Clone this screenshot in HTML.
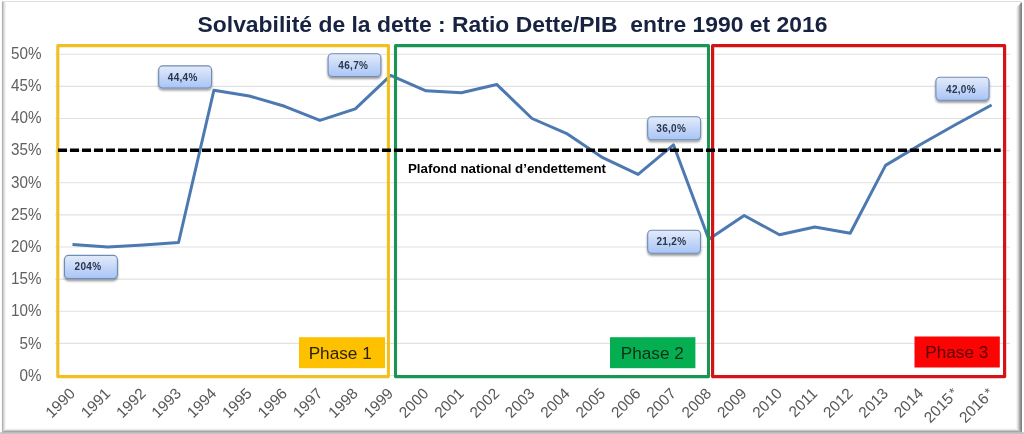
<!DOCTYPE html>
<html lang="fr"><head><meta charset="utf-8"><title>Solvabilité de la dette</title>
<style>
html,body{margin:0;padding:0;background:#fff;}
body{width:1024px;height:434px;overflow:hidden;font-family:"Liberation Sans",sans-serif;}
svg{display:block;filter:blur(0.45px)}
.grid line{stroke:#e1e1e1;stroke-width:1.1}
.yl text{font-size:16.2px;fill:#606060;text-anchor:end}
.xl text{font-size:15.4px;fill:#585858;text-anchor:end}
.ct{font-size:10px;fill:#2b364c;text-anchor:middle;font-weight:bold;letter-spacing:0.3px}
.ph{font-size:17.2px;text-anchor:middle}
</style></head><body>
<svg width="1024" height="434" viewBox="0 0 1024 434" font-family="Liberation Sans, sans-serif">
<defs>
<linearGradient id="cg" x1="0" y1="0" x2="0" y2="1"><stop offset="0" stop-color="#e3ebfa"/><stop offset="1" stop-color="#a8c4f6"/></linearGradient>
<filter id="sh" x="-20%" y="-20%" width="140%" height="160%"><feGaussianBlur in="SourceAlpha" stdDeviation="1"/><feOffset dx="0" dy="1.5"/><feComponentTransfer><feFuncA type="linear" slope="0.4"/></feComponentTransfer><feMerge><feMergeNode/><feMergeNode in="SourceGraphic"/></feMerge></filter>
<linearGradient id="lb" x1="0" y1="0" x2="1" y2="0"><stop offset="0" stop-color="#fff"/><stop offset="0.12" stop-color="#b4b4b4"/><stop offset="0.3" stop-color="#b0b0b0"/><stop offset="0.45" stop-color="#d6d6d6"/><stop offset="0.7" stop-color="#ececec"/><stop offset="1" stop-color="#fff"/></linearGradient>
<linearGradient id="rb" x1="0" y1="0" x2="1" y2="0"><stop offset="0" stop-color="#fff"/><stop offset="0.15" stop-color="#f2f2f2"/><stop offset="0.3" stop-color="#e0e0e0"/><stop offset="0.45" stop-color="#c8c8c8"/><stop offset="0.62" stop-color="#a8a8a8"/><stop offset="0.8" stop-color="#8c8c8c"/><stop offset="1" stop-color="#7c7c7c"/></linearGradient>
<linearGradient id="bb" x1="0" y1="0" x2="0" y2="1"><stop offset="0" stop-color="#fff"/><stop offset="0.3" stop-color="#f3f3f3"/><stop offset="0.55" stop-color="#c8c8c8"/><stop offset="0.85" stop-color="#9a9a9a"/><stop offset="1" stop-color="#a2a2a2"/></linearGradient>
</defs>
<rect width="1024" height="434" fill="#fff"/>
<!-- frame -->
<rect x="2.5" y="1.5" width="1018" height="430" fill="none" stroke="#dedede" stroke-width="1"/>
<rect x="1.4" y="1.5" width="5" height="433" fill="url(#lb)"/>

<rect x="0" y="432.3" width="1024" height="2" fill="#c4c4c4"/>
<polygon points="2.5,432.5 7,428 1016.5,428 1022,432.5" fill="url(#bb)"/>
<polygon points="1022,2 1022,432.5 1015.8,428 1015.8,8.2" fill="url(#rb)"/>
<text x="512.5" y="32.2" font-size="21.3" font-weight="bold" fill="#172340" text-anchor="middle" xml:space="preserve" textLength="630" lengthAdjust="spacingAndGlyphs">Solvabilité de la dette : Ratio Dette/PIB  entre 1990 et 2016</text>
<g class="grid"><line x1="58" x2="1004" y1="375.50" y2="375.50"/><line x1="55" x2="1010" y1="343.38" y2="343.38"/><line x1="55" x2="1010" y1="311.25" y2="311.25"/><line x1="55" x2="1010" y1="279.12" y2="279.12"/><line x1="55" x2="1010" y1="247.00" y2="247.00"/><line x1="55" x2="1010" y1="214.88" y2="214.88"/><line x1="55" x2="1010" y1="182.75" y2="182.75"/><line x1="55" x2="1010" y1="150.62" y2="150.62"/><line x1="55" x2="1010" y1="118.50" y2="118.50"/><line x1="55" x2="1010" y1="86.38" y2="86.38"/><line x1="55" x2="1010" y1="54.25" y2="54.25"/></g>
<g class="yl"><text transform="translate(41.6,380.90) scale(0.94,1)">0%</text><text transform="translate(41.6,348.68) scale(0.94,1)">5%</text><text transform="translate(41.6,316.45) scale(0.94,1)">10%</text><text transform="translate(41.6,284.23) scale(0.94,1)">15%</text><text transform="translate(41.6,252.00) scale(0.94,1)">20%</text><text transform="translate(41.6,219.78) scale(0.94,1)">25%</text><text transform="translate(41.6,187.55) scale(0.94,1)">30%</text><text transform="translate(41.6,155.33) scale(0.94,1)">35%</text><text transform="translate(41.6,123.10) scale(0.94,1)">40%</text><text transform="translate(41.6,90.88) scale(0.94,1)">45%</text><text transform="translate(41.6,58.65) scale(0.94,1)">50%</text></g>
<g class="xl"><text transform="translate(76.00,394.50) rotate(-45)">1990</text><text transform="translate(111.35,394.50) rotate(-45)">1991</text><text transform="translate(146.70,394.50) rotate(-45)">1992</text><text transform="translate(182.05,394.50) rotate(-45)">1993</text><text transform="translate(217.40,394.50) rotate(-45)">1994</text><text transform="translate(252.75,394.50) rotate(-45)">1995</text><text transform="translate(288.10,394.50) rotate(-45)">1996</text><text transform="translate(323.45,394.50) rotate(-45)">1997</text><text transform="translate(358.80,394.50) rotate(-45)">1998</text><text transform="translate(394.15,394.50) rotate(-45)">1999</text><text transform="translate(429.50,394.50) rotate(-45)">2000</text><text transform="translate(464.85,394.50) rotate(-45)">2001</text><text transform="translate(500.20,394.50) rotate(-45)">2002</text><text transform="translate(535.55,394.50) rotate(-45)">2003</text><text transform="translate(570.90,394.50) rotate(-45)">2004</text><text transform="translate(606.25,394.50) rotate(-45)">2005</text><text transform="translate(641.60,394.50) rotate(-45)">2006</text><text transform="translate(676.95,394.50) rotate(-45)">2007</text><text transform="translate(712.30,394.50) rotate(-45)">2008</text><text transform="translate(747.65,394.50) rotate(-45)">2009</text><text transform="translate(783.00,394.50) rotate(-45)">2010</text><text transform="translate(818.35,394.50) rotate(-45)">2011</text><text transform="translate(853.70,394.50) rotate(-45)">2012</text><text transform="translate(889.05,394.50) rotate(-45)">2013</text><text transform="translate(924.40,394.50) rotate(-45)">2014</text><text transform="translate(959.35,394.50) rotate(-45)">2015<tspan dx="1.8" dy="-1.5" font-size="13.5">*</tspan></text><text transform="translate(994.70,394.50) rotate(-45)">2016<tspan dx="1.8" dy="-1.5" font-size="13.5">*</tspan></text></g>
<polyline points="72.50,244.43 107.85,247.00 143.20,245.07 178.55,242.50 213.90,90.23 249.25,96.01 284.60,106.29 319.95,120.43 355.30,108.86 390.65,75.45 426.00,90.87 461.35,92.80 496.70,84.45 532.05,118.50 567.40,133.92 602.75,157.69 638.10,174.40 673.45,144.84 708.80,239.29 744.15,215.52 779.50,234.79 814.85,227.08 850.20,233.19 885.55,165.40 920.90,144.20 956.25,124.28 991.60,105.01" fill="none" stroke="#4c79b0" stroke-width="3" stroke-linejoin="round" stroke-linecap="butt"/>
<text x="408" y="173.3" font-size="13.3" font-weight="bold" fill="#000">Plafond national d’endettement</text>
<rect x="57.8" y="45.6" width="330.6" height="331" fill="none" stroke="#f0c022" stroke-width="3.1" stroke-linejoin="round"/>
<rect x="395.5" y="45.6" width="313" height="331" fill="none" stroke="#1b9553" stroke-width="3.1" stroke-linejoin="round"/>
<rect x="712.6" y="45.7" width="292" height="330.9" fill="none" stroke="#d51216" stroke-width="3.2" stroke-linejoin="round"/>
<line x1="58" x2="1000.7" y1="150.2" y2="150.2" stroke="#000" stroke-width="3.4" stroke-dasharray="9 3"/>
<rect x="299" y="337.2" width="86" height="31" fill="#fec100"/>
<text x="340.2" y="358.9" class="ph" fill="#2b2000">Phase 1</text>
<rect x="610" y="337.2" width="85.4" height="31" fill="#06ae52"/>
<text x="652.3" y="358.9" class="ph" fill="#0a3015">Phase 2</text>
<rect x="914.5" y="336.5" width="85.3" height="31" fill="#fc0404"/>
<text x="956.8" y="358.2" class="ph" fill="#5a0000">Phase 3</text>
<g filter="url(#sh)"><rect x="158.70000000000002" y="65.89999999999999" width="52.90" height="22.10" rx="4" ry="4" fill="url(#cg)" stroke="#6f8bb4" stroke-width="1.1"/></g><text x="182.7" y="81.0" class="ct">44,4%</text><g filter="url(#sh)"><rect x="328.1" y="53.699999999999996" width="52.80" height="22.80" rx="4" ry="4" fill="url(#cg)" stroke="#6f8bb4" stroke-width="1.1"/></g><text x="353.3" y="68.5" class="ct">46,7%</text><g filter="url(#sh)"><rect x="64.5" y="255.4" width="52.90" height="23.20" rx="4" ry="4" fill="url(#cg)" stroke="#6f8bb4" stroke-width="1.1"/></g><text x="88.0" y="270.0" class="ct">204%</text><g filter="url(#sh)"><rect x="647.6999999999999" y="116.8" width="52.90" height="23.00" rx="4" ry="4" fill="url(#cg)" stroke="#6f8bb4" stroke-width="1.1"/></g><text x="671.2" y="131.9" class="ct">36,0%</text><g filter="url(#sh)"><rect x="647.6999999999999" y="230.20000000000002" width="52.80" height="23.10" rx="4" ry="4" fill="url(#cg)" stroke="#6f8bb4" stroke-width="1.1"/></g><text x="671.4" y="245.3" class="ct">21,2%</text><g filter="url(#sh)"><rect x="935.9" y="77.2" width="53.10" height="23.10" rx="4" ry="4" fill="url(#cg)" stroke="#6f8bb4" stroke-width="1.1"/></g><text x="961.0" y="92.5" class="ct">42,0%</text>
</svg>
</body></html>
